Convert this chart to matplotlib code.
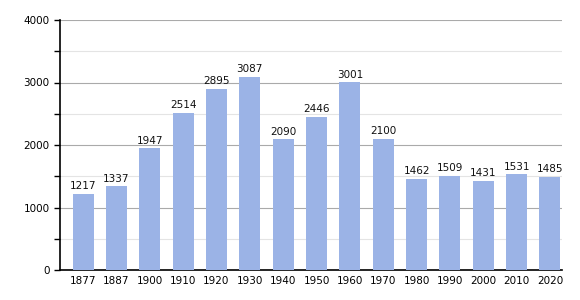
import numpy as np
import matplotlib.pyplot as plt
from matplotlib.ticker import MultipleLocator

years = ["1877", "1887", "1900", "1910", "1920", "1930", "1940", "1950",
         "1960", "1970", "1980", "1990", "2000", "2010", "2020"]
population = [1217, 1337, 1947, 2514, 2895, 3087, 2090, 2446,
              3001, 2100, 1462, 1509, 1431, 1531, 1485]

fig = plt.figure(figsize=(5.8, 3.0), dpi=100)
ax = fig.add_axes([60 / 580, 30 / 300, 502 / 580, 250 / 300])

x = np.arange(len(years))
ax.bar(x, population, width=0.63, color='#9bb3e6', zorder=3)
for xi, v in zip(x, population):
    ax.text(xi, v + 45, str(v), ha='center', va='bottom', fontsize=7.5, color='#111111')

ax.set_xlim(-0.69, len(years) - 1 + 0.36)
ax.set_ylim(0, 4000)
ax.set_xticks(x)
ax.set_xticklabels(years, fontsize=7.5)
ax.tick_params(axis='x', length=0, pad=4)
ax.yaxis.set_major_locator(MultipleLocator(1000))
ax.yaxis.set_minor_locator(MultipleLocator(500))
ax.tick_params(axis='y', which='major', labelsize=7.5, length=4, width=1)
ax.tick_params(axis='y', which='minor', length=4, width=1)
ax.grid(axis='y', which='major', color='#aaaaaa', linewidth=0.8, zorder=0)
ax.grid(axis='y', which='minor', color='#e4e4e4', linewidth=0.8, zorder=0)

for side in ['top', 'right']:
    ax.spines[side].set_visible(False)
ax.spines['left'].set_linewidth(1.2)
ax.spines['bottom'].set_linewidth(1.2)

fig.savefig("out.png", dpi=100)
